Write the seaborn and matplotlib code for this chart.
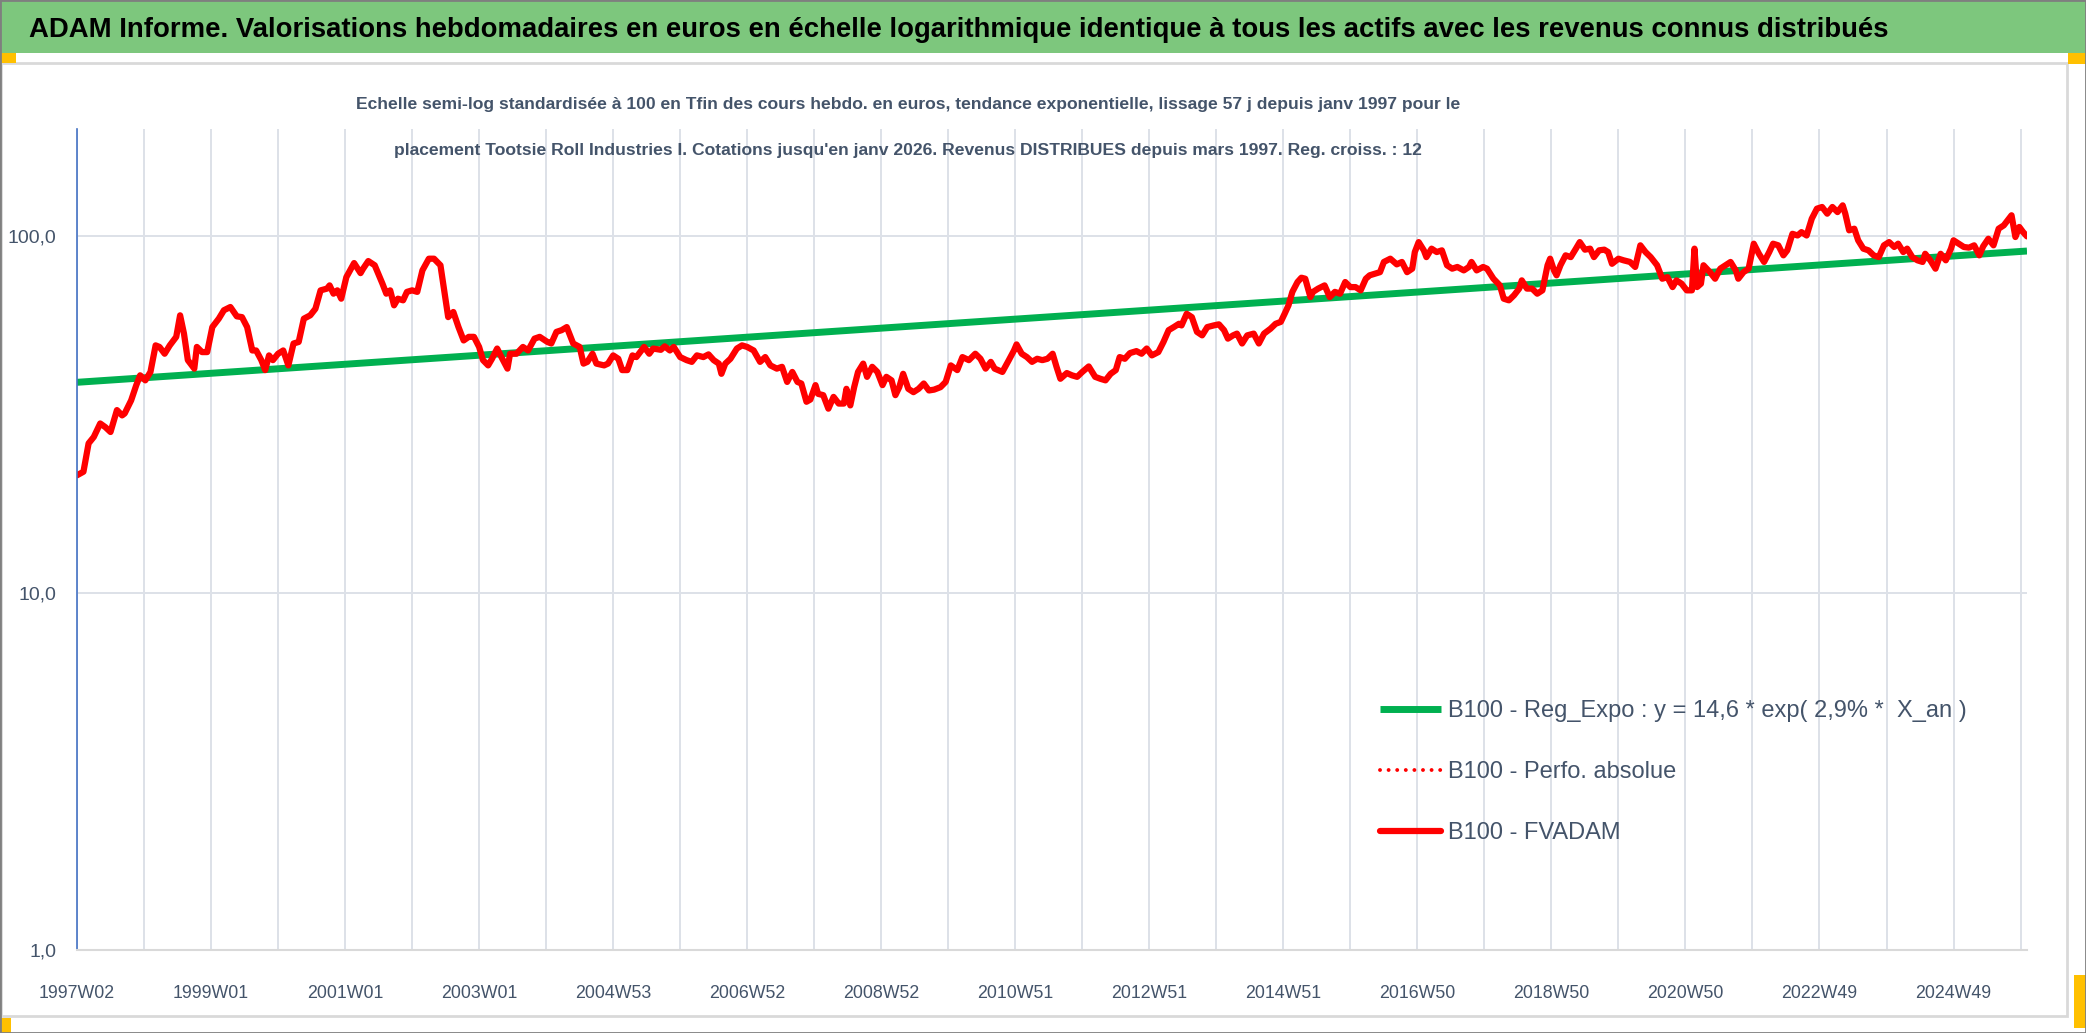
import matplotlib
matplotlib.use('Agg')
import matplotlib.pyplot as plt
import matplotlib.patches as patches
from matplotlib.ticker import NullLocator
import seaborn as sns
import pandas as pd

# Données (index de semaine depuis 1997W02, base 100 en fin)
fv_semaines = [
    0, 5, 9, 13, 18, 22, 26, 31, 35, 37, 42, 46, 49, 53, 57, 61, 64, 68, 72, 77,
    80, 83, 86, 91, 93, 97, 101, 105, 110, 114, 119, 124, 128, 132, 136, 139, 143, 146, 149, 152,
    156, 160, 164, 168, 172, 176, 181, 185, 189, 194, 196, 199, 202, 205, 209, 215, 220, 222, 226, 231,
    237, 240, 243, 246, 249, 253, 256, 260, 264, 268, 273, 277, 282, 286, 288, 292, 296, 300, 304, 308,
    312, 315, 319, 322, 326, 330, 334, 336, 341, 346, 350, 355, 359, 365, 368, 372, 376,
    380, 385, 390, 393, 396, 400, 403, 409, 412, 416, 420, 423, 427, 431, 434, 440, 444, 447, 453,
    456, 460, 463, 468, 473, 477, 481, 486, 490, 494, 498, 500, 503, 507, 512, 516, 520, 525, 530, 534,
    538, 543, 547, 551, 555, 559, 562, 566, 569, 573, 575, 579, 583, 587, 591, 595, 597, 600, 603, 606,
    610, 613, 617, 621, 625, 628, 632, 635, 638, 641, 645, 649, 653, 657, 661, 665, 670, 674, 678, 683,
    687, 692, 697, 701, 705, 709, 712, 718, 723, 727, 729, 733, 737, 741, 745, 749, 753, 757,
    760, 763, 768, 772, 776, 780, 785, 790, 794, 798, 802, 806, 809, 813, 817, 822, 826, 830, 834, 839,
    843, 847, 851, 855, 857, 861, 865, 869, 873, 877, 882, 886, 890, 893, 897, 900, 904, 908, 913, 917,
    921, 926, 930, 934, 937, 940, 943, 947, 950, 953, 957, 959, 963, 968, 972, 976, 980, 984, 988, 992,
    996, 1000, 1003, 1007, 1011, 1014, 1019, 1024, 1028, 1032, 1036, 1038, 1041, 1045, 1047, 1051, 1055, 1059, 1063, 1067,
    1071, 1076, 1080, 1082, 1086, 1091, 1094, 1099, 1104, 1107, 1111, 1115, 1119, 1121, 1125, 1129, 1133, 1137, 1141, 1143,
    1146, 1148, 1151, 1155, 1159, 1163, 1166, 1170, 1174, 1177, 1181, 1185, 1188, 1191, 1196, 1200, 1205, 1209, 1213, 1217,
    1221, 1226, 1230, 1234, 1238, 1241, 1245, 1249, 1253, 1255, 1257, 1260, 1262, 1267, 1271, 1275, 1279, 1283, 1287, 1289,
    1293, 1297, 1301, 1305, 1309, 1313, 1316, 1320, 1324, 1327, 1331, 1335, 1338, 1342, 1346, 1350, 1354, 1358, 1362, 1366,
    1370, 1372, 1375, 1379, 1382, 1386, 1390, 1394, 1398, 1402, 1406, 1410, 1413, 1417, 1420, 1424, 1428, 1432, 1434, 1438,
    1442, 1446, 1450, 1454, 1456, 1460, 1464, 1468, 1472, 1476, 1479, 1483, 1487, 1491, 1495, 1499, 1501, 1504, 1507, 1510,
    1513,
]
fv_valeurs = [
    21.4, 21.9, 26.3, 27.4, 29.9, 29.2, 28.3, 32.6, 31.5, 31.9, 34.7, 38.3, 40.8, 39.5, 41.7, 49.5, 49.0, 46.9, 49.5, 52.3,
    60.1, 53.4, 45.0, 42.6, 49.0, 47.4, 47.4, 55.7, 58.8, 62.1, 63.4, 59.7, 59.4, 55.7, 47.9, 47.9, 45.0, 42.2, 46.4, 45.0,
    46.9, 47.9, 43.5, 50.1, 50.6, 58.8, 60.1, 62.7, 70.6, 71.4, 72.9, 69.1, 70.6, 66.9, 76.9, 84.2, 78.9, 81.2, 85.3, 83.0,
    73.7, 69.1, 70.6, 64.1, 66.9, 66.2, 69.9, 70.6, 69.9, 80.3, 86.6, 86.6, 83.0, 66.2, 59.4, 61.4, 55.7, 51.1, 52.3, 52.3,
    49.0, 45.0, 43.5, 45.4, 48.5, 45.4, 42.6, 46.9, 46.9, 49.0, 47.9, 51.7, 52.3, 50.6, 50.1, 54.0, 54.6,
    55.7, 50.1, 49.0, 44.0, 44.5, 46.9, 44.0, 43.5, 44.0, 46.4, 45.4, 42.2, 42.2, 46.4, 45.9, 49.0, 46.9, 48.5, 48.1,
    49.2, 47.9, 49.0, 45.9, 45.0, 44.5, 46.4, 45.9, 46.7, 45.0, 44.0, 41.2, 44.0, 45.4, 48.5, 49.5, 49.0, 47.9, 44.5, 45.9,
    43.5, 42.6, 43.1, 39.1, 41.7, 39.1, 38.7, 34.4, 34.9, 38.3, 36.2, 35.9, 32.9, 35.5, 34.0, 34.0, 37.4, 33.6, 37.8, 41.7,
    44.0, 40.4, 43.1, 41.7, 38.3, 40.4, 39.5, 35.9, 37.8, 41.2, 37.4, 36.6, 37.4, 38.7, 37.0, 37.2, 37.8, 39.1, 43.5, 42.2,
    45.9, 45.0, 46.9, 45.4, 42.6, 44.5, 42.6, 41.7, 45.0, 47.9, 49.8, 46.9, 45.9, 44.5, 45.4, 45.0, 45.4, 46.9,
    43.1, 39.9, 41.4, 40.8, 40.4, 41.7, 43.2, 40.4, 39.9, 39.5, 41.2, 42.2, 45.9, 45.4, 47.1, 47.7, 46.9, 48.5, 46.4, 47.4,
    50.6, 54.6, 55.7, 56.9, 56.3, 60.7, 59.4, 54.0, 52.8, 55.7, 56.3, 56.7, 54.6, 51.7, 52.8, 53.4, 50.1, 52.8, 53.4, 50.1,
    53.4, 55.1, 56.9, 57.6, 60.7, 64.1, 69.9, 74.5, 76.6, 76.1, 67.6, 69.9, 71.4, 72.9, 67.6, 69.9, 69.1, 74.5, 72.1, 72.1,
    70.6, 76.1, 77.8, 78.6, 79.4, 84.8, 86.6, 83.5, 84.8, 79.4, 81.2, 90.4, 96.4, 91.4, 87.5, 92.4, 90.4, 91.4, 83.0, 81.2,
    82.1, 80.3, 82.1, 84.8, 80.3, 82.1, 81.2, 76.1, 72.9, 66.9, 66.2, 68.4, 71.4, 75.3, 71.4, 71.4, 69.1, 70.6, 83.0, 86.6,
    80.3, 77.8, 83.0, 88.5, 87.5, 92.4, 96.4, 91.8, 92.4, 87.5, 91.4, 91.8, 90.4, 83.8, 86.6, 85.7, 84.8, 82.1, 94.4, 90.4,
    87.5, 83.0, 76.1, 76.9, 72.1, 75.3, 73.7, 70.6, 70.6, 92.4, 72.1, 73.7, 83.0, 79.4, 76.1, 81.2, 83.0, 84.8, 80.3, 76.1,
    79.4, 81.2, 95.4, 89.4, 84.8, 90.4, 95.4, 94.4, 88.5, 91.4, 101.7, 100.6, 102.8, 100.6, 112.1, 119.6, 120.9, 115.8, 120.9, 117.0,
    122.2, 115.8, 104.0, 105.1, 97.5, 92.4, 91.4, 88.5, 87.5, 94.4, 96.4, 93.4, 95.4, 90.4, 92.4, 87.5, 85.7, 84.8, 89.4, 85.7,
    81.2, 89.4, 85.7, 92.4, 97.5, 95.4, 93.4, 93.0, 94.4, 88.5, 93.8, 98.5, 94.4, 105.1, 107.4, 112.1, 114.6, 99.6, 106.3, 102.8,
    100.0,
]

# Tendance exponentielle (droite en semi-log) : début et fin
tendance_semaines = [0, 1513]
tendance_valeurs = [39.0, 91.0]

etiquettes_x = ['1997W02', '1999W01', '2001W01', '2003W01', '2004W53', '2006W52', '2008W52',
                '2010W51', '2012W51', '2014W51', '2016W50', '2018W50', '2020W50', '2022W49', '2024W49']
ticks_y = [1, 10, 100]
etiquettes_y = ['1,0', '10,0', '100,0']

titre = ("ADAM Informe. Valorisations hebdomadaires en euros en échelle logarithmique "
         "identique à tous les actifs avec les revenus connus distribués")
sous_titre_1 = ("Echelle semi-log standardisée à 100 en Tfin des cours hebdo. en euros, tendance "
                "exponentielle, lissage 57 j depuis janv 1997 pour le")
sous_titre_2 = ("placement Tootsie Roll Industries I. Cotations jusqu'en janv 2026. Revenus "
                "DISTRIBUES depuis mars 1997. Reg. croiss. : 12")
leg_reg = 'B100 - Reg_Expo : y = 14,6 * exp( 2,9% *  X_an )'
leg_perf = 'B100 - Perfo. absolue'
leg_fv = 'B100 - FVADAM'

# Configurations
sns.set_style('white')
plt.rcParams['font.family'] = ['Liberation Sans', 'DejaVu Sans']

W, H = 2086, 1033
fig = plt.figure(figsize=(W / 100, H / 100), dpi=100)
fig.patch.set_facecolor('white')

def rect(x0, y0, x1, y1, **kw):
    """Rectangle en pixels (origine en haut à gauche)."""
    r = patches.Rectangle((x0 / W, 1 - y1 / H), (x1 - x0) / W, (y1 - y0) / H,
                          transform=fig.transFigure, zorder=-5, **kw)
    fig.patches.append(r)

# bandeau vert du titre
rect(0, 0, W, 53, facecolor='#7DC77D', edgecolor='none')
# zone du graphique
rect(1, 63, 2067, 1016, facecolor='white', edgecolor='#D9D9D9', linewidth=2)
# poignées orange
for (a, b, c, d) in [(0, 53, 16, 63), (2068, 53, 2086, 64), (0, 1018, 11, 1033), (2074, 975, 2086, 1028)]:
    rect(a, b, c, d, facecolor='#FFC000', edgecolor='none')
# cadre extérieur
rect(0, 0, W, H, facecolor='none', edgecolor='#7F7F7F', linewidth=2)

fig.text(29 / W, 1 - 30 / H, titre, fontsize=19.8, fontweight='bold', color='black',
         ha='left', va='center')
fig.text(908 / W, 1 - 104 / H, sous_titre_1, fontsize=12.6, fontweight='bold', color='#44546A',
         ha='center', va='center')
fig.text(908 / W, 1 - 151 / H, sous_titre_2, fontsize=12.6, fontweight='bold', color='#44546A',
         ha='center', va='center')

ax = fig.add_axes([77 / W, 1 - 950 / H, (2027 - 77) / W, (950 - 129) / H])
ax.set_facecolor('white')

df_fv = pd.DataFrame({'semaine': fv_semaines, 'valeur': fv_valeurs})
df_tend = pd.DataFrame({'semaine': tendance_semaines, 'valeur': tendance_valeurs})

sns.lineplot(data=df_tend, x='semaine', y='valeur', ax=ax, color='#00B050',
             linewidth=5, label=leg_reg, solid_capstyle='butt')
sns.lineplot(data=df_fv, x='semaine', y='valeur', ax=ax, color='#FF0000',
             linewidth=2.8, linestyle=(0, (0.01, 2.2)), dash_capstyle='round', label=leg_perf)
sns.lineplot(data=df_fv, x='semaine', y='valeur', ax=ax, color='#FF0000',
             linewidth=4.5, label=leg_fv, solid_joinstyle='round', solid_capstyle='round')

ax.set_yscale('log')
ax.set_ylim(1, 200)
ax.set_xlim(0, 1513)
ax.set_yticks(ticks_y)
ax.set_yticklabels(etiquettes_y)
ax.yaxis.set_minor_locator(NullLocator())

pos_x = list(range(0, 1509, 52))
lab_x = [etiquettes_x[i // 2] if i % 2 == 0 else '' for i in range(len(pos_x))]
ax.set_xticks(pos_x)
ax.set_xticklabels(lab_x)
ax.xaxis.set_minor_locator(NullLocator())

ax.set_xlabel('')
ax.set_ylabel('')
ax.grid(True, color='#DDE1E8', linewidth=1.4)
ax.set_axisbelow(True)
for s in ['top', 'right']:
    ax.spines[s].set_visible(False)
ax.spines['left'].set_color('#4472C4')
ax.spines['left'].set_linewidth(1.2)
ax.spines['bottom'].set_color('#D9D9D9')
ax.spines['bottom'].set_linewidth(1.5)

ax.tick_params(axis='x', length=6, width=1.3, color='#D9D9D9', pad=19,
               labelsize=12.8, labelcolor='#44546A')
ax.tick_params(axis='y', length=0, pad=15, labelsize=14, labelcolor='#44546A')

leg = ax.legend(loc='center left', bbox_to_anchor=(1380 / W, 1 - 772 / H),
                bbox_transform=fig.transFigure, frameon=False, fontsize=17,
                handlelength=2.6, handletextpad=0.3, labelspacing=1.65,
                borderpad=0, borderaxespad=0)
for t in leg.get_texts():
    t.set_color('#44546A')

fig.savefig('out.png', dpi=100)
